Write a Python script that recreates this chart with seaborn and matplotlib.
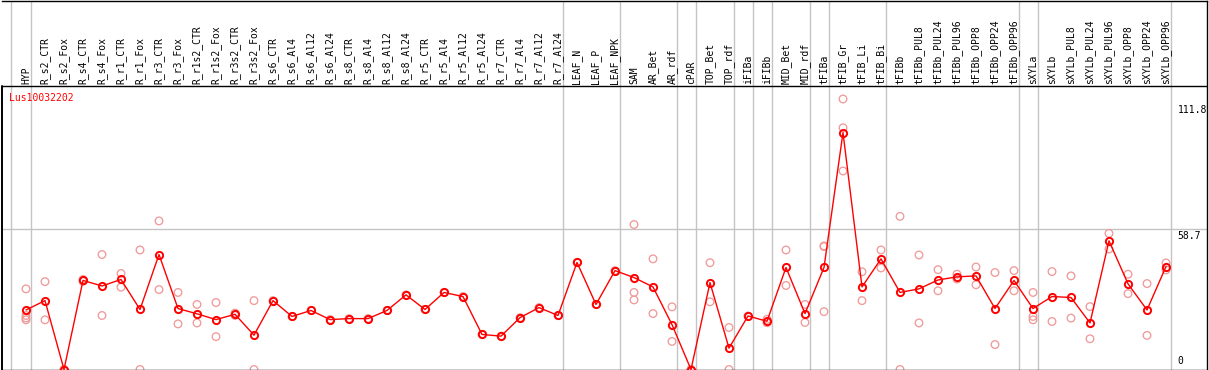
import matplotlib
matplotlib.use("Agg")
import matplotlib.pyplot as plt
import matplotlib.transforms as mtransforms
import numpy as np
import pandas as pd
import seaborn as sns

# ---------------- data ----------------
gene_id = "Lus10032202"

categories = [
    "HYP", "R_s2_CTR", "R_s2_Fox", "R_s4_CTR", "R_s4_Fox", "R_r1_CTR", "R_r1_Fox",
    "R_r3_CTR", "R_r3_Fox", "R_r1s2_CTR", "R_r1s2_Fox", "R_r3s2_CTR", "R_r3s2_Fox",
    "R_s6_CTR", "R_s6_Al4", "R_s6_Al12", "R_s6_Al24", "R_s8_CTR", "R_s8_Al4",
    "R_s8_Al12", "R_s8_Al24", "R_r5_CTR", "R_r5_Al4", "R_r5_Al12", "R_r5_Al24",
    "R_r7_CTR", "R_r7_Al4", "R_r7_Al12", "R_r7_Al24", "LEAF_N", "LEAF_P", "LEAF_NPK",
    "SAM", "AR_Bet", "AR_rdf", "cPAR", "TOP_Bet", "TOP_rdf", "iFIBa", "iFIBb",
    "MID_Bet", "MID_rdf", "tFIBa", "tFIB_Gr", "tFIB_Li", "tFIB_Bi", "tFIBb",
    "tFIBb_PUL8", "tFIBb_PUL24", "tFIBb_PUL96", "tFIBb_OPP8", "tFIBb_OPP24",
    "tFIBb_OPP96", "sXYLa", "sXYLb", "sXYLb_PUL8", "sXYLb_PUL24", "sXYLb_PUL96",
    "sXYLb_OPP8", "sXYLb_OPP24", "sXYLb_OPP96",
]

mean_values = [
    24.8, 28.7, 0.0, 37.1, 34.8, 37.5, 25.0, 47.9, 25.4, 23.2, 20.8, 23.0, 14.3,
    28.7, 22.1, 24.6, 20.8, 21.2, 21.2, 24.6, 31.1, 25.0, 32.1, 30.4, 14.6,
    13.9, 21.6, 25.8, 22.5, 44.6, 27.1, 41.2,
    38.3, 34.4, 18.7, 0.0, 36.2, 8.9, 22.3, 20.1,
    42.5, 23.3, 42.5, 98.7, 34.4, 46.1, 32.1,
    33.6, 37.3, 38.6, 39.0, 25.4, 37.1,
    25.4, 30.4, 30.0, 19.4, 53.6, 35.7, 24.8, 42.9,
]

replicate_values = [
    [33.6, 22.5, 21.5, 20.7], [36.6, 20.7], [0.0, 0.0], [37.5, 36.7], [47.9, 22.5],
    [40.0, 34.3], [49.8, 0.0], [61.9, 33.3], [32.1, 19.0], [27.1, 19.4],
    [27.9, 13.7], [23.5, 22.5], [28.7, 0.0],
    [28.7], [22.1], [24.6], [20.8], [21.2], [21.2], [24.6], [31.1], [25.0],
    [32.1], [30.4], [14.6], [13.9], [21.6], [25.8], [22.5],
    [44.6], [27.1], [41.2],
    [60.4, 32.1, 29.0], [46.1, 23.3], [26.1, 11.7], [0.0, 0.0], [44.5, 28.2],
    [17.5, 0.0], [22.3], [20.9, 19.5], [49.8, 35.0], [27.1, 19.6],
    [51.5, 51.2, 24.1], [112.7, 100.7, 82.7], [40.7, 28.7], [49.8, 42.3],
    [63.8, 0.0], [47.7, 19.4], [41.6, 32.8], [39.7, 37.7], [42.7, 35.3],
    [40.4, 10.4], [41.2, 32.8], [32.1, 22.1, 20.7], [40.8, 20.0], [39.0, 21.4],
    [26.2, 12.8], [56.7, 50.2], [39.7, 31.6], [35.8, 14.2], [44.4, 41.5],
]

# last category of each block (separator drawn after it)
group_last = ["HYP", "R_r7_Al24", "LEAF_NPK", "AR_rdf", "cPAR", "TOP_rdf", "iFIBa",
              "iFIBb", "MID_rdf", "tFIBa", "tFIB_Bi", "tFIBb_OPP96", "sXYLa",
              "sXYLb_OPP96"]

scale_ticks = [0, 58.7, 111.8]
scale_labels = ["0", "58.7", "111.8"]

# ---------------- frames ----------------
pos = np.arange(len(categories))
df_mean = pd.DataFrame({"pos": pos, "value": mean_values, "cat": categories})
rep_pos, rep_val = [], []
for i, reps in enumerate(replicate_values):
    for v in reps:
        rep_pos.append(i)
        rep_val.append(v)
df_rep = pd.DataFrame({"pos": rep_pos, "value": rep_val})

# ---------------- figure ----------------
sns.set_theme(style="white")
plt.rcParams["font.family"] = ["DejaVu Sans Mono", "DejaVu Sans"]

W, H = 1209, 370
fig = plt.figure(figsize=(W / 100, H / 100), dpi=100)
fig.patch.set_facecolor("white")

px_per_cat = 19.0
x0_px = 26.0          # pixel x of first category
px_per_unit = 2.397   # pixel per value unit
left_px, right_px = 1.5, 1206.5
top_px, bottom_px = 0.5, 369.5

ax = fig.add_axes([left_px / W, (H - bottom_px) / H,
                   (right_px - left_px) / W, (bottom_px - top_px) / H])
ax.set_facecolor("white")
ax.set_xlim((left_px - x0_px) / px_per_cat, (right_px - x0_px) / px_per_cat)
ax.set_ylim(0, (bottom_px - 0.5 - top_px) / px_per_unit)
header_v = (369.0 - 85.7) / px_per_unit

for s in ["top", "bottom", "right"]:
    ax.spines[s].set_visible(True)
    ax.spines[s].set_color("black")
    ax.spines[s].set_linewidth(1.0)
ax.spines["left"].set_visible(False)
ax.plot([ax.get_xlim()[0]] * 2, [0, header_v], color="black", lw=1.4,
        clip_on=False, zorder=5)

# group separators
cat_index = {c: i for i, c in enumerate(categories)}
sep_positions = [-0.8] + [cat_index[c] + 0.25 for c in group_last]
for xs in sep_positions:
    ax.axvline(xs, color="#c4c4c4", lw=1.0, zorder=1)

# header separator and grid line
ax.axhline(header_v, color="black", lw=1.0, zorder=4)
ax.axhline(58.7, color="#c4c4c4", lw=1.0, zorder=1)

# replicates
sns.scatterplot(data=df_rep, x="pos", y="value", ax=ax, color="#f09a9a",
                facecolors="none", edgecolor="#f09a9a", s=30, linewidth=0.95,
                marker="o", legend=False, zorder=2)
# means
sns.lineplot(data=df_mean, x="pos", y="value", ax=ax, color="red", lw=1.0,
             marker="o", ms=5.2, mfc="none", mec="red", mew=1.4,
             legend=False, zorder=3, sort=False, errorbar=None)
ax.set_xlabel("")
ax.set_ylabel("")
ax.set_xticks([])
ax.set_yticks([])

# header labels
trans = mtransforms.blended_transform_factory(ax.transData, fig.transFigure)
for i, c in enumerate(categories):
    ax.text(i, (H - 83.5) / H, c, transform=trans, rotation=90, ha="center",
            va="bottom", fontsize=7, color="black", family="DejaVu Sans Mono")

# gene id
ax.text(9.0 / W, (H - 98.0) / H, gene_id, transform=fig.transFigure, ha="left",
        va="center", fontsize=7, color="red", family="DejaVu Sans Mono")

# scale labels on the right
lab_x = cat_index["sXYLb_OPP96"] + 0.25
for v, t in zip(scale_ticks, scale_labels):
    if v == 0:
        ax.annotate(t, xy=(lab_x, v), xytext=(5, 2.5), textcoords="offset points",
                    ha="left", va="bottom", fontsize=7, color="black",
                    family="DejaVu Sans Mono", annotation_clip=False)
    else:
        ax.annotate(t, xy=(lab_x, v), xytext=(5, -1.5 if v < 100 else -3),
                    textcoords="offset points", ha="left", va="top", fontsize=7,
                    color="black", family="DejaVu Sans Mono", annotation_clip=False)

fig.savefig("out.png", dpi=100, facecolor="white")
